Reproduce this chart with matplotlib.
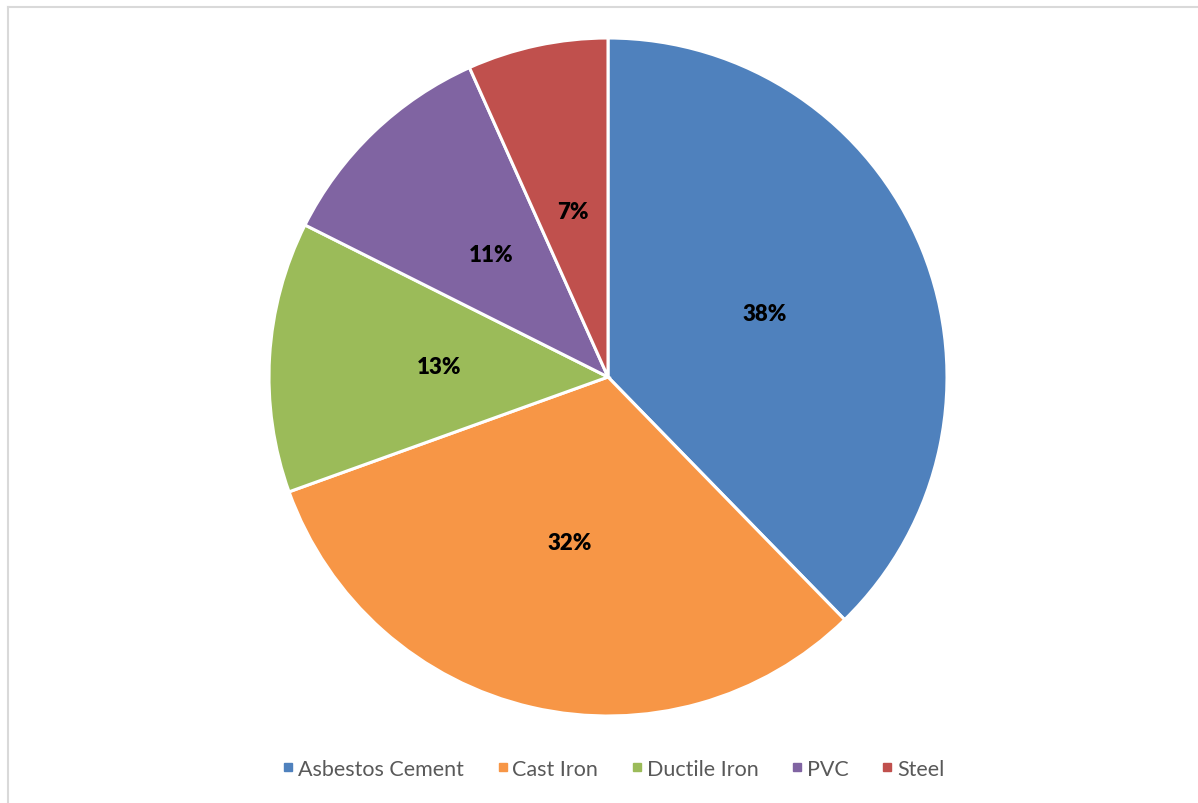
import matplotlib
matplotlib.use("Agg")
import matplotlib.pyplot as plt
from matplotlib.lines import Line2D

categories = ["Asbestos Cement", "Cast Iron", "Ductile Iron", "PVC", "Steel"]
values = [37.7, 31.8, 12.9, 10.9, 6.7]
colors = ["#4F81BD", "#F79646", "#9BBB59", "#8064A2", "#C0504D"]

W, H = 1198, 804
fig = plt.figure(figsize=(W / 100, H / 100), dpi=100)
fig.patch.set_facecolor("white")

cx, cy, r = 608, 378, 339
ax = fig.add_axes([(cx - r) / W, (H - cy - r) / H, 2 * r / W, 2 * r / H])
wedges, texts, autotexts = ax.pie(
    values, colors=colors, startangle=90, counterclock=False,
    autopct=lambda p: f"{p:.0f}%", pctdistance=0.5, radius=1,
    wedgeprops=dict(edgecolor="white", linewidth=2.2),
    textprops=dict(fontsize=16, fontweight="heavy", color="black", family="Lato"))
ax.set_xlim(-1, 1)
ax.set_ylim(-1, 1)
ax.set_aspect("equal")
ax.axis("off")

handles = [Line2D([], [], marker="s", linestyle="none", markersize=6,
                  markerfacecolor=c, markeredgecolor=c) for c in colors]
leg = fig.legend(handles, categories, loc="center", bbox_to_anchor=(613 / W, 1 - 770 / H),
                 ncol=5, frameon=False, handlelength=0.6, handletextpad=0.15,
                 columnspacing=1.5, borderpad=0, prop=dict(family="Lato", size=15.5))
for t in leg.get_texts():
    t.set_color("#595959")

# chart frame lines (top and left visible)
fig.add_artist(Line2D([8 / W, 1], [1 - 8 / H, 1 - 8 / H], color="#D9D9D9", linewidth=1.5))
fig.add_artist(Line2D([8 / W, 8 / W], [0, 1 - 8 / H], color="#D9D9D9", linewidth=1.5))

fig.savefig("out.png", dpi=100, facecolor="white")
